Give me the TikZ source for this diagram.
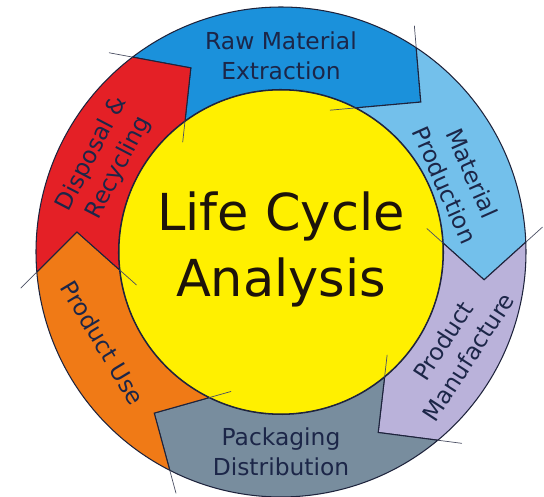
\documentclass[tikz,border=0pt]{standalone}
\usepackage{fontspec}
\setmainfont{DejaVu Sans}
\usetikzlibrary{calc}

\definecolor{rawblue}{RGB}{27,145,219}
\definecolor{prodblue}{RGB}{115,192,235}
\definecolor{manlilac}{RGB}{186,178,218}
\definecolor{packgrey}{RGB}{120,141,158}
\definecolor{useorange}{RGB}{240,122,22}
\definecolor{recred}{RGB}{228,32,38}
\definecolor{lcayellow}{RGB}{255,240,0}
\definecolor{lcaline}{RGB}{30,35,60}
\definecolor{lcatext}{RGB}{28,38,72}

\tikzset{
  segline/.style={draw=lcaline, line width=0.6pt, line join=miter},
  tickline/.style={draw=lcaline!80, line width=0.4pt},
  ringlabel/.style={align=center, text=lcatext, inner sep=0pt, font=\fontsize{13.3}{17}\selectfont},
  centrelabel/.style={align=center, text=black!85!brown, inner sep=0pt, font=\fontsize{29}{38}\selectfont}
}

% one arrow of the ring: colour, tail (outer, inner, tip), head (outer, inner, tip)
\newcommand{\lcaseg}[7]{%
  \filldraw[segline, fill=#1] (#2:\Ro) arc[start angle=#2, end angle=#5, radius=\Ro]
    -- (#7:\Rm) -- (#6:\Ri) arc[start angle=#6, end angle=#3, radius=\Ri] -- (#4:\Rm) -- cycle;}
% the thin lines that run on past a head
\newcommand{\lcatick}[3]{%
  \draw[tickline] (#1:\Ro) -- ($(#3:\Rm)!1.4!(#1:\Ro)$);
  \draw[tickline] (#2:\Ri) -- ($(#3:\Rm)!1.4!(#2:\Ri)$);}

\begin{document}
\begin{tikzpicture}[line cap=round,x=1.0cm,y=1.0cm]
            \useasboundingbox (-5.62,-4.90) rectangle (5.26,5.04);
            \def\Ro{4.9} \def\Ri{3.25} \def\Rm{4.1}
            \filldraw[fill=lcayellow, draw=lcaline, line width=0.6pt] (0,0) circle (3.24cm);  % centre
            \lcaseg{rawblue}{127.3}{126.2}{116.1}{56.5}{62.5}{47}        % raw material
            \lcaseg{prodblue}{56.5}{62.5}{47}{2.3}{3.1}{-7.8}            % material production
            \lcaseg{manlilac}{2.3}{3.1}{-7.8}{-50.2}{-50.4}{-61.7}       % manufacture
            \lcaseg{packgrey}{-50.2}{-50.4}{-61.7}{-117}{-116.3}{-128.2} % packaging
            \lcaseg{useorange}{-117}{-116.3}{-128.2}{-175.3}{-173.7}{-185.6} % use
            \lcaseg{recred}{-175.3}{-173.7}{-185.6}{-232.7}{-233.8}{-243.9}  % disposal
            \lcatick{56.5}{62.5}{47}
            \lcatick{2.3}{3.1}{-7.8}
            \lcatick{-50.2}{-50.4}{-61.7}
            \lcatick{-117}{-116.3}{-128.2}
            \lcatick{184.7}{186.3}{174.4}
            \lcatick{127.3}{126.2}{116.1}
            \node[ringlabel] (raw) at (90:3.92) {Raw Material\\Extraction};
            \node[ringlabel, rotate=-66] (matprod) at (22.3:3.84) {Material\\Production};
            \node[ringlabel, rotate=57] (manuf) at (-29:4.0) {Product\\Manufacture};
            \node[ringlabel] (pack) at (-90:4.0) {Packaging\\Distribution};
            \node[ringlabel, rotate=-59] (use) at (207:4.0) {Product Use};
            \node[ringlabel, rotate=62.5] (disp) at (152.6:3.96) {Disposal \&\\Recycling};
            \node[centrelabel] (lca) at (0,0.05) {Life Cycle\\Analysis};
\end{tikzpicture}
\end{document}
